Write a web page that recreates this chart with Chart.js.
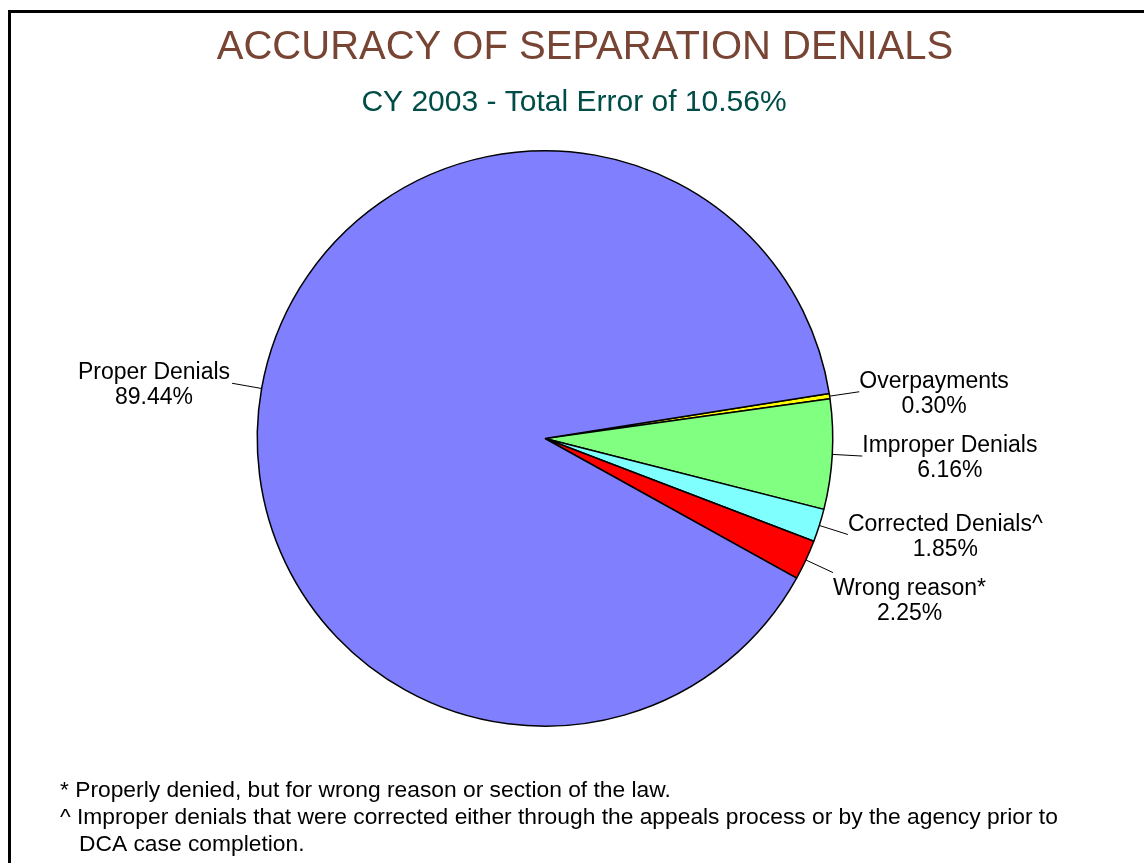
<!DOCTYPE html>
<html>
<head>
<meta charset="utf-8">
<title>Accuracy of Separation Denials</title>
<script src="https://cdn.jsdelivr.net/npm/chart.js@4.4.1/dist/chart.umd.min.js"></script>
<style>
  html, body { margin: 0; padding: 0; background: #fff; }
  canvas { display: block; }
</style>
</head>
<body>
<canvas id="denials" width="1144" height="863"></canvas>
<script>
// slice order follows the clockwise drawing order of the original
const categories = ['Overpayments', 'Improper Denials', 'Corrected Denials^', 'Wrong reason*', 'Proper Denials'];
const shares = [0.30, 6.16, 1.85, 2.25, 89.44];
const chartTitle = 'ACCURACY OF SEPARATION DENIALS';
const chartSubtitle = 'CY 2003 - Total Error of 10.56%';
const footnotes = [
  '* Properly denied, but for wrong reason or section of the law.',
  '^ Improper denials that were corrected either through the appeals process or by the agency prior to',
  '   DCA case completion.'
];

const FONT = '"Liberation Sans", Arial, Helvetica, sans-serif';

// frame, titles and footnotes
const decorations = {
  id: 'decorations',
  beforeDraw(chart) {
    const c = chart.ctx;
    c.save();
    c.fillStyle = '#fff';
    c.fillRect(0, 0, chart.width, chart.height);
    c.strokeStyle = '#000';
    c.lineWidth = 3;
    c.strokeRect(9.5, 11.5, chart.width + 20, chart.height + 20);

    c.textAlign = 'center';
    c.textBaseline = 'alphabetic';
    c.fillStyle = '#784433';
    c.font = '40px ' + FONT;
    c.fillText(chartTitle, 585, 59);
    c.fillStyle = '#004d47';
    c.font = '30px ' + FONT;
    c.fillText(chartSubtitle, 574, 111);

    c.textAlign = 'left';
    c.fillStyle = '#000';
    c.font = '22.8px ' + FONT;
    footnotes.forEach((line, i) => {
      c.fillText(line, 60, 797 + i * 27);
    });
    c.restore();
  }
};

// outside labels with leader lines, like the spreadsheet original
const sliceLabels = {
  id: 'sliceLabels',
  afterDatasetsDraw(chart) {
    const c = chart.ctx;
    const meta = chart.getDatasetMeta(0);
    const lineH = 25;
    c.save();
    c.font = '23px ' + FONT;
    c.fillStyle = '#000';
    c.strokeStyle = '#000';
    c.lineWidth = 1;
    c.textAlign = 'center';

    const items = meta.data.map((arc, i) => {
      const mid = (arc.startAngle + arc.endAngle) / 2;
      const r = arc.outerRadius;
      const cos = Math.cos(mid), sin = Math.sin(mid);
      const start = { x: arc.x + cos * r, y: arc.y + sin * r };
      const end = { x: arc.x + cos * (r + 30), y: arc.y + sin * (r + 30) };
      const lines = [categories[i], shares[i].toFixed(2) + '%'];
      const w = Math.max(...lines.map(l => c.measureText(l).width));
      return { start, end, lines, w, right: cos >= 0, base: end.y - 4 };
    });

    // push overlapping labels on the same side downward
    [true, false].forEach(side => {
      const group = items.filter(it => it.right === side).sort((a, b) => a.end.y - b.end.y);
      for (let k = 1; k < group.length; k++) {
        const minBase = group[k - 1].base + 2 * lineH + 14;
        if (group[k].base < minBase) group[k].base = minBase;
      }
    });

    items.forEach(it => {
      c.beginPath();
      c.moveTo(it.start.x, it.start.y);
      c.lineTo(it.end.x, it.end.y);
      c.stroke();
      const cx = it.right ? it.end.x + it.w / 2 : it.end.x - 2 - it.w / 2;
      it.lines.forEach((l, j) => c.fillText(l, cx, it.base + j * lineH));
    });
    c.restore();
  }
};

const ctx = document.getElementById('denials').getContext('2d');
const chart = new Chart(ctx, {
  type: 'pie',
  data: {
    labels: categories,
    datasets: [
      {
        data: shares,
        backgroundColor: ['#ffff00', '#80ff80', '#80ffff', '#ff0000', '#8080ff'],
        borderColor: '#000',
        borderWidth: 1.5
      }
    ]
  },
  options: {
    responsive: false,
    animation: false,
    rotation: 81,
    layout: {
      padding: { left: 256, right: 310, top: 150, bottom: 136 }
    },
    plugins: {
      legend: { display: false },
      tooltip: { enabled: false }
    }
  },
  plugins: [decorations, sliceLabels]
});
</script>
</body>
</html>
